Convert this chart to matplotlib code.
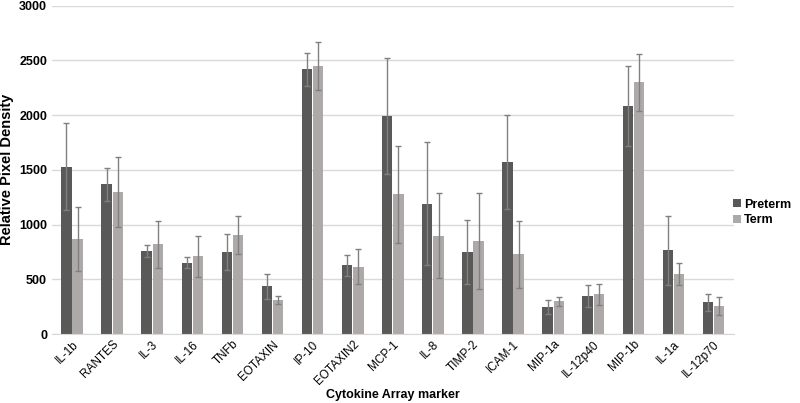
import matplotlib
matplotlib.use("Agg")
import matplotlib.pyplot as plt
import numpy as np

plt.rcParams['font.family'] = ['Liberation Sans', 'DejaVu Sans']

categories = ["IL-1b", "RANTES", "IL-3", "IL-16", "TNFb", "EOTAXIN", "IP-10", "EOTAXIN2",
              "MCP-1", "IL-8", "TIMP-2", "ICAM-1", "MIP-1a", "IL-12p40", "MIP-1b", "IL-1a", "IL-12p70"]
preterm = [1530, 1370, 755, 650, 750, 435, 2420, 630, 1990, 1190, 750, 1570, 250, 350, 2085, 765, 290]
preterm_err = [400, 150, 55, 50, 165, 115, 150, 95, 530, 560, 295, 430, 65, 100, 365, 315, 75]
term = [870, 1300, 820, 710, 905, 310, 2450, 615, 1275, 900, 850, 730, 300, 365, 2300, 545, 255]
term_err = [290, 320, 215, 185, 170, 35, 220, 160, 440, 390, 435, 305, 40, 95, 260, 100, 80]

fig = plt.figure(figsize=(8, 4.03), dpi=100)
ax = fig.add_axes([0.065, 0.171, 0.852, 0.815])

x = np.arange(len(categories))
w = 0.26
off = 0.14
ekw = dict(ecolor="#808080", elinewidth=1, capsize=2.5, capthick=1)
ax.bar(x - off, preterm, w, yerr=preterm_err, color="#595959", label="Preterm", error_kw=ekw, zorder=2)
ax.bar(x + off, term, w, yerr=term_err, color="#ADA9A9", label="Term", error_kw=ekw, zorder=2)

ax.set_xlim(-0.5, len(categories) - 0.5)
ax.set_ylim(0, 3000)
ax.set_yticks(np.arange(0, 3001, 500))
ax.yaxis.grid(True, color="#D9D9D9", linewidth=1, zorder=0)
ax.set_axisbelow(True)
for s in ["top", "right", "left"]:
    ax.spines[s].set_visible(False)
ax.spines["bottom"].set_color("#D9D9D9")
ax.tick_params(axis="both", length=0)
ax.tick_params(axis="x", pad=3)
ax.set_xticks(x)
ax.set_xticklabels(categories, rotation=45, ha="right", rotation_mode="anchor", fontsize=8.5)
for lab in ax.get_yticklabels():
    lab.set_fontweight("bold")
    lab.set_fontsize(9)
ax.set_ylabel("Relative Pixel Density", fontweight="bold", fontsize=10.5, labelpad=4)
ax.set_xlabel("Cytokine Array marker", fontweight="bold", fontsize=9, labelpad=1)

leg = ax.legend(loc="center left", bbox_to_anchor=(0.99, 0.37), frameon=False,
                borderaxespad=0.3, borderpad=0.2,
                handlelength=0.6, handleheight=0.6, handletextpad=0.3,
                prop={"weight": "bold", "size": 9}, labelspacing=0.3)

fig.savefig("out.png", dpi=100)
